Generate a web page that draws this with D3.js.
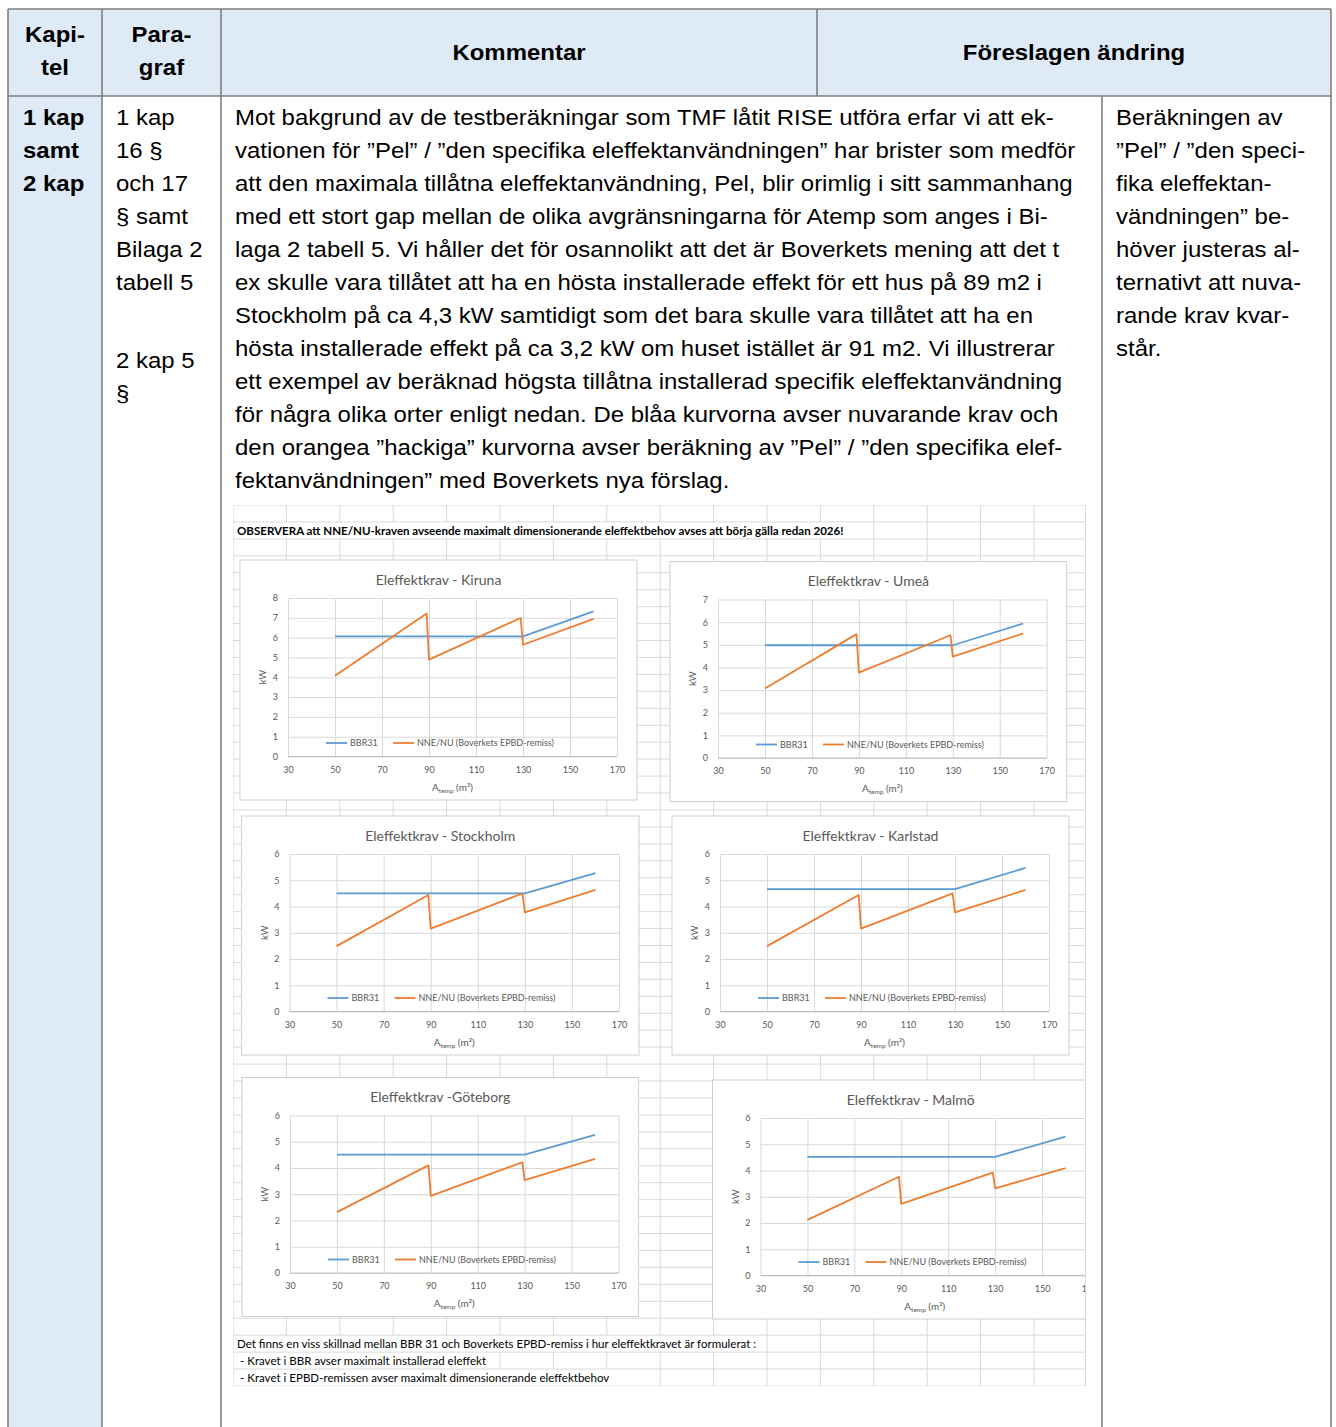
<!DOCTYPE html>
<html>
<head>
<meta charset="utf-8">
<script src="https://cdn.jsdelivr.net/npm/d3@7"></script>
<style>
  body { margin: 0; background: #fff; }
  svg { display: block; }
</style>
</head>
<body>
<div id="page"></div>
<script>
// Atemp (m2) of the points in each series
const bbrArea = [50, 130, 160];
const nneArea = [50, 89, 90, 129, 130, 160];
const xTicks = [30, 50, 70, 90, 110, 130, 150, 170];

// kW
const kirunaBBR = [6.06, 6.06, 7.32];
const kirunaNNE = [4.08, 7.22, 4.89, 6.99, 5.64, 6.95];
const umeaBBR = [4.98, 4.98, 5.94];
const umeaNNE = [3.07, 5.47, 3.77, 5.42, 4.48, 5.5];
const stockholmBBR = [4.5, 4.5, 5.27];
const stockholmNNE = [2.49, 4.44, 3.16, 4.5, 3.78, 4.63];
const karlstadBBR = [4.66, 4.66, 5.47];
const karlstadNNE = [2.49, 4.44, 3.16, 4.5, 3.78, 4.63];
const goteborgBBR = [4.51, 4.51, 5.26];
const goteborgNNE = [2.32, 4.1, 2.94, 4.22, 3.54, 4.35];
const malmoBBR = [4.52, 4.52, 5.29];
const malmoNNE = [2.12, 3.76, 2.73, 3.92, 3.32, 4.09];

const seriesNames = ["BBR31", "NNE/NU (Boverkets EPBD-remiss)"];
const seriesColors = ["#5b9bd5", "#ed7d31"];

// text of the table
const commentLines = [
  "Mot bakgrund av de testberäkningar som TMF låtit RISE utföra erfar vi att ek-",
  "vationen för ”Pel” / ”den specifika eleffektanvändningen” har brister som medför",
  "att den maximala tillåtna eleffektanvändning, Pel, blir orimlig i sitt sammanhang",
  "med ett stort gap mellan de olika avgränsningarna för Atemp som anges i Bi-",
  "laga 2 tabell 5. Vi håller det för osannolikt att det är Boverkets mening att det t",
  "ex skulle vara tillåtet att ha en hösta installerade effekt för ett hus på 89 m2 i",
  "Stockholm på ca 4,3 kW samtidigt som det bara skulle vara tillåtet att ha en",
  "hösta installerade effekt på ca 3,2 kW om huset istället är 91 m2. Vi illustrerar",
  "ett exempel av beräknad högsta tillåtna installerad specifik eleffektanvändning",
  "för några olika orter enligt nedan. De blåa kurvorna avser nuvarande krav och",
  "den orangea ”hackiga” kurvorna avser beräkning av ”Pel” / ”den specifika elef-",
  "fektanvändningen” med Boverkets nya förslag."
];
const changeLines = [
  "Beräkningen av", "”Pel” / ”den speci-", "fika eleffektan-", "vändningen” be-",
  "höver justeras al-", "ternativt att nuva-", "rande krav kvar-", "står."
];
const paraLines = ["1 kap", "16 §", "och 17", "§ samt", "Bilaga 2", "tabell 5", "", "", "2 kap 5", "§"];
const chapterLines = ["1 kap", "samt", "2 kap"];

const W = 1336, H = 1427;
const svg = d3.select("#page").append("svg")
    .attr("width", W)
    .attr("height", H)
    .style("background", "#fff");

// ---- table frame ----
const L = 8, T = 9, R = 1331, headB = 96;
const lightBlue = "#deeaf6", border = "#7f7f7f";

svg.append("rect").attr("x", L).attr("y", T).attr("width", R - L).attr("height", headB - T).attr("fill", lightBlue);
svg.append("rect").attr("x", L).attr("y", headB).attr("width", 102 - L).attr("height", H - headB).attr("fill", lightBlue);

const frame = [
  [L, T, R, T], [L, headB, R, headB],
  [L, T, L, H], [102, T, 102, H], [221, T, 221, H], [R, T, R, H],
  [817, T, 817, headB], [1102, headB, 1102, H]
];
svg.selectAll(".frame")
    .data(frame)
  .enter().append("line")
    .attr("x1", d => d[0]).attr("y1", d => d[1])
    .attr("x2", d => d[2]).attr("y2", d => d[3])
    .attr("stroke", border)
    .attr("stroke-width", 1.6);

// the document text is a little wider than plain Arial
const docFont = "'Liberation Sans', Arial, sans-serif";
const docStretch = 1.09;
const txt = svg.append("g").style("font-family", docFont).style("font-size", "22px").attr("fill", "#000");
const place = (x, y) => "translate(" + x + "," + y + ") scale(" + docStretch + ",1)";

// header
const head = [
  {t: "Kapi-", x: 55, y: 42}, {t: "tel", x: 55, y: 75},
  {t: "Para-", x: 161.5, y: 42}, {t: "graf", x: 161.5, y: 75},
  {t: "Kommentar", x: 519, y: 60}, {t: "Föreslagen ändring", x: 1074, y: 60}
];
txt.selectAll(".head")
    .data(head)
  .enter().append("text")
    .attr("transform", d => place(d.x, d.y))
    .attr("text-anchor", "middle")
    .style("font-weight", "bold")
    .text(d => d.t);

const base0 = 124.5, lh = 33;
txt.selectAll(".chap")
    .data(chapterLines)
  .enter().append("text")
    .attr("transform", (d, i) => place(23, base0 + i * lh))
    .style("font-weight", "bold")
    .text(d => d);

txt.selectAll(".para")
    .data(paraLines)
  .enter().append("text")
    .attr("transform", (d, i) => place(116, i < 6 ? base0 + i * lh : 367.5 + (i - 8) * lh))
    .text(d => d);

txt.selectAll(".comment")
    .data(commentLines)
  .enter().append("text")
    .attr("transform", (d, i) => place(235, base0 + i * lh))
    .text(d => d);

txt.selectAll(".change")
    .data(changeLines)
  .enter().append("text")
    .attr("transform", (d, i) => place(1116, base0 + i * lh))
    .text(d => d);

// ---- embedded spreadsheet ----
const sx0 = 233, sx1 = 1086, sy0 = 505, sy1 = 1386;
const colW = 53.4, rowH = (sy1 - sy0) / 52;
const sheetFont = "Lato, 'Open Sans', sans-serif";

svg.append("clipPath").attr("id", "sheetClip")
  .append("rect").attr("x", sx0).attr("y", sy0).attr("width", sx1 - sx0).attr("height", sy1 - sy0);

const sheet = svg.append("g").attr("clip-path", "url(#sheetClip)").style("font-family", sheetFont);

// cells holding overflowing text hide the grid lines they cover
const textRows = [
  {row: 1, x: 237, t: "OBSERVERA att NNE/NU-kraven avseende maximalt dimensionerande eleffektbehov avses att börja gälla redan 2026!", bold: true, end: 840},
  {row: 49, x: 237, t: "Det finns en viss skillnad mellan BBR 31 och Boverkets EPBD-remiss i hur eleffektkravet är formulerat :", end: 760},
  {row: 50, x: 240, t: "- Kravet i BBR avser maximalt installerad eleffekt", end: 490},
  {row: 51, x: 240, t: "- Kravet i EPBD-remissen avser maximalt dimensionerande eleffektbehov", end: 618}
];

const grid = sheet.append("g").attr("stroke", "#dadada").attr("stroke-width", 1);
d3.range(0, 53).forEach(j => {
  grid.append("line").attr("x1", sx0).attr("x2", sx1 + 20)
      .attr("y1", sy0 + j * rowH).attr("y2", sy0 + j * rowH);
});
d3.range(0, 17).forEach(i => {
  const gx = sx0 + i * colW;
  d3.range(0, 52).forEach(j => {
    const tr = textRows.find(r => r.row === j);
    if (tr && gx > sx0 + 1 && gx < tr.end) return;
    grid.append("line").attr("x1", gx).attr("x2", gx)
        .attr("y1", sy0 + j * rowH).attr("y2", sy0 + (j + 1) * rowH);
  });
});

sheet.selectAll(".cellText")
    .data(textRows)
  .enter().append("text")
    .attr("transform", d => "translate(" + d.x + "," + (sy0 + d.row * rowH + rowH - 4.3) + ") scale(1.08,1)")
    .style("font-size", "10.7px")
    .style("font-weight", d => d.bold ? "bold" : "normal")
    .attr("fill", "#000")
    .text(d => d.t);

// ---- the six charts ----
const charts = [
  {title: "Eleffektkrav - Kiruna", bbr: kirunaBBR, nne: kirunaNNE, yMax: 8, x: 240, y: 560, w: 397, h: 240},
  {title: "Eleffektkrav - Umeå", bbr: umeaBBR, nne: umeaNNE, yMax: 7, x: 670, y: 561.5, w: 396.7, h: 240},
  {title: "Eleffektkrav - Stockholm", bbr: stockholmBBR, nne: stockholmNNE, yMax: 6, x: 241.5, y: 816, w: 397.5, h: 239},
  {title: "Eleffektkrav - Karlstad", bbr: karlstadBBR, nne: karlstadNNE, yMax: 6, x: 672, y: 816, w: 397, h: 239},
  {title: "Eleffektkrav -Göteborg", bbr: goteborgBBR, nne: goteborgNNE, yMax: 6, x: 242, y: 1077.5, w: 396.5, h: 239},
  {title: "Eleffektkrav - Malmö", bbr: malmoBBR, nne: malmoNNE, yMax: 6, x: 712.5, y: 1080, w: 396.5, h: 239}
];

const gray = "#595959";

charts.forEach(c => {
  const g = sheet.append("g");

  g.append("rect")
      .attr("x", c.x).attr("y", c.y).attr("width", c.w).attr("height", c.h)
      .attr("fill", "#fff")
      .attr("stroke", "#cfcfcf");

  const x = d3.scaleLinear().domain([30, 170]).range([c.x + 48, c.x + c.w - 20]);
  const y = d3.scaleLinear().domain([0, c.yMax]).range([c.y + c.h - 43.5, c.y + 38]);
  const yTicks = d3.range(0, c.yMax + 1);

  // horizontal grid + y labels
  const ya = g.append("g")
      .attr("transform", "translate(" + x(30) + ",0)")
      .call(d3.axisLeft(y).tickValues(yTicks).tickFormat(d3.format("d"))
            .tickSize(-(x(170) - x(30))).tickPadding(10));
  // vertical grid + x labels
  const xa = g.append("g")
      .attr("transform", "translate(0," + y(0) + ")")
      .call(d3.axisBottom(x).tickValues(xTicks).tickFormat(d3.format("d"))
            .tickSize(-(y(0) - y(c.yMax))).tickPadding(10));

  [ya, xa].forEach(a => {
    a.select(".domain").remove();
    a.selectAll(".tick line").attr("stroke", "#d9d9d9");
    a.selectAll(".tick text").attr("fill", gray)
        .style("font-family", sheetFont).style("font-size", "9px");
  });

  // x axis line
  g.append("line")
      .attr("x1", x(30)).attr("x2", x(170))
      .attr("y1", y(0)).attr("y2", y(0))
      .attr("stroke", "#bfbfbf");

  // series
  const bbrLine = d3.line().x((d, i) => x(bbrArea[i])).y(d => y(d));
  const nneLine = d3.line().x((d, i) => x(nneArea[i])).y(d => y(d));
  g.append("path").attr("d", bbrLine(c.bbr))
      .attr("fill", "none").attr("stroke", seriesColors[0])
      .attr("stroke-width", 1.8).attr("stroke-linejoin", "round");
  g.append("path").attr("d", nneLine(c.nne))
      .attr("fill", "none").attr("stroke", seriesColors[1])
      .attr("stroke-width", 1.8).attr("stroke-linejoin", "round");

  // title
  g.append("text")
      .attr("x", c.x + c.w / 2).attr("y", c.y + 24.5)
      .attr("text-anchor", "middle")
      .attr("fill", gray)
      .style("font-size", "14px")
      .text(c.title);

  // legend
  const ly = y(0) - 13.5;
  const legend = [{dx: 38, tx: 62}, {dx: 105, tx: 129}];
  legend.forEach((l, i) => {
    g.append("line")
        .attr("x1", x(30) + l.dx).attr("x2", x(30) + l.dx + 21)
        .attr("y1", ly).attr("y2", ly)
        .attr("stroke", seriesColors[i]).attr("stroke-width", 1.8);
    g.append("text")
        .attr("x", x(30) + l.tx).attr("y", ly + 3)
        .attr("fill", gray)
        .style("font-size", "9px")
        .text(seriesNames[i]);
  });

  // axis titles
  const xt = g.append("text")
      .attr("x", (x(30) + x(170)) / 2).attr("y", y(0) + 34)
      .attr("text-anchor", "middle")
      .attr("fill", gray)
      .style("font-size", "10px");
  xt.append("tspan").text("A");
  xt.append("tspan").attr("dy", 2).style("font-size", "6.5px").text("temp");
  xt.append("tspan").attr("dy", -2).text(" (m²)");

  g.append("text")
      .attr("transform", "translate(" + (x(30) - 22) + "," + ((y(0) + y(c.yMax)) / 2) + ") rotate(-90)")
      .attr("text-anchor", "middle")
      .attr("fill", gray)
      .style("font-size", "9.5px")
      .text("kW");
});

// right edge of the sheet picture
sheet.append("line").attr("x1", sx1 - 0.5).attr("x2", sx1 - 0.5).attr("y1", sy0).attr("y2", sy1)
    .attr("stroke", "#dadada");
</script>
</body>
</html>
